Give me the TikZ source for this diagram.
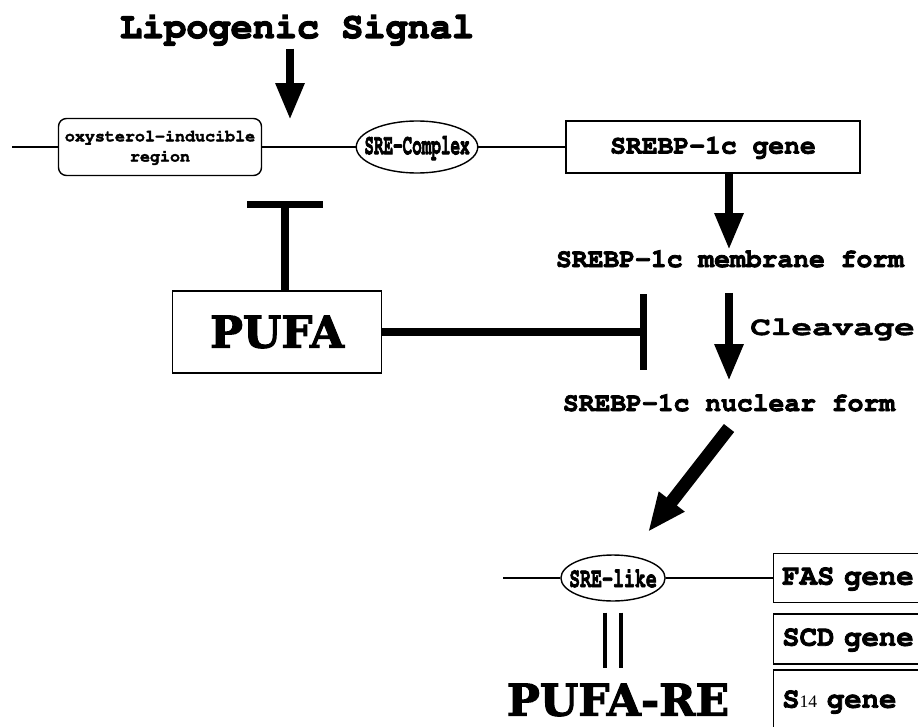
\documentclass[tikz,border=0pt]{standalone}
\usepackage[T1]{fontenc}
\usepackage{fontspec}
\usepackage{graphicx}
\usepackage{tikz}
\usetikzlibrary{shapes.geometric, arrows.meta, positioning}
\newfontfamily\slab{DejaVu Serif}
\newfontfamily\tnr{Liberation Serif}
\newcommand{\cour}{\fontencoding{T1}\fontfamily{pcr}\fontseries{b}\selectfont}
% heavier strokes for the typewriter text
\newcommand{\hv}[2][0.45]{\special{pdf:literal direct 2 Tr #1 w}#2\special{pdf:literal direct 0 Tr}}
\tikzset{
	% plain text labels
	lbl/.style={
		inner sep=0pt,
		font=\cour\fontsize{15}{15}\selectfont
	},
	% boxes of the genes
	genebox/.style={
		draw,
		line width=0.8pt,
		anchor=west,
		minimum width=3.4cm,
		minimum height=0.98cm,
		text width=87pt,
		inner xsep=4.5pt,
		align=left,
		font=\cour\fontsize{16.5}{16.5}\selectfont
	},
	% elements on the promoter
	elem/.style={
		draw,
		ellipse,
		line width=0.8pt,
		inner ysep=0pt
	},
	dnaline/.style={line width=1.6pt},
	thinline/.style={line width=0.8pt},
	fatarrow/.style={
		line width=5pt,
		-{Triangle[width=15.3pt,length=21pt]}
	},
	inhib/.style={
		line width=4pt,
		-{Bar[width=43pt]}
	},
	eqbar/.style={line width=2.8pt}
}
\begin{document}
\begin{tikzpicture}[x=0.02cm, y=-0.02cm]
	\clip (0,0) rectangle (918,726);
	
	% signal
	\node[lbl, anchor=base, font=\cour\fontsize{21}{21}\selectfont] (signal) at (297,38) {\hv[0.7]{Lipogenic Signal}};
	\coordinate (hit) at (290,120);
	\draw[fatarrow, shorten <=3pt] (signal.south -| hit) -- (hit);
	
	% promoter of SREBP-1c
	\coordinate (dnaL) at (12,147);
	\node[draw, line width=0.8pt, rounded corners=4.5pt, minimum width=4.06cm, minimum height=1.14cm,
		align=center, font=\cour\fontsize{9.5}{11.5}\selectfont] (oxy) at (160,147) {\hv[0.2]{oxysterol-inducible\\region}};
	\node[elem, inner xsep=-5.5pt, minimum height=1.04cm, font=\cour\fontsize{16.5}{16.5}\selectfont] (srecx) at (417,147) {\scalebox{0.55}[1]{\hv[0.5]{SRE-Complex}}};
	\node[draw, line width=0.8pt, minimum width=5.88cm, minimum height=1.04cm, font=\cour\fontsize{15}{15}\selectfont] (srebp) at (713,147) {\hv{SREBP-1c gene}};
	\draw[dnaline] (dnaL) -- (oxy) -- (srecx) -- (srebp);
	
	% processing
	\coordinate (spine) at (729,0);
	\node[lbl, anchor=base] (memb) at (730,267) {\hv{SREBP-1c membrane form}};
	\node[lbl, anchor=base] (nucl) at (729,411) {\hv{SREBP-1c nuclear form}};
	\draw[fatarrow] (srebp.south -| spine) -- (memb.north -| spine);
	\draw[fatarrow, shorten <=0.5cm, shorten >=0.26cm] (memb.south -| spine) -- (nucl.north -| spine);
	\node[lbl, anchor=base west] (cleav) at (750,335) {\scalebox{1.3}[1]{\hv[0.25]{Cleavage}}};
	
	% PUFA
	\node[draw, line width=0.8pt, minimum width=4.18cm, minimum height=1.64cm, font=\slab\bfseries\fontsize{25}{25}\selectfont] (pufa) at (277,332) {\hv[0.6]{PUFA}};
	\coordinate (tbar) at (285,201);
	\coordinate (mbar) at (647,332);
	\draw[inhib] (pufa.north -| tbar) -- (tbar);
	\draw[inhib] (pufa.east) -- (mbar);
	
	% to the target genes
	\coordinate (dtail) at (729,428);
	\coordinate (dtip) at (648,532);
	\draw[line width=7.4pt, -{Triangle[width=17pt,length=22pt]}] (dtail) -- (dtip);
	
	% target promoter
	\coordinate (dnaR) at (503,578);
	\node[elem, inner xsep=-4pt, minimum height=0.92cm, font=\cour\fontsize{16}{16}\selectfont] (srelike) at (613,578) {\scalebox{0.65}[1]{\hv{SRE-like}}};
	\node[genebox] (fas) at (773,578) {\hv{FAS gene}};
	\node[genebox, minimum height=1.0cm] (scd) at (773,639) {\hv{SCD gene}};
	\node[genebox, minimum height=1.24cm] (stf) at (773,701) {\hv{S}{\tnr\mdseries\fontsize{10}{10}\selectfont 14} \hv{gene}};
	\draw[thinline] (dnaR) -- (srelike) -- (fas);
	
	% PUFA-RE
	\foreach \dx in {-8,8}
		\draw[eqbar] ([xshift=\dx*0.02cm]srelike.south) ++(0,11) -- ++(0,55);
	\node[inner sep=0pt, font=\slab\bfseries\fontsize{25}{25}\selectfont] (pufare) at (618,700) {\hv[0.6]{PUFA-RE}};
\end{tikzpicture}
\end{document}
